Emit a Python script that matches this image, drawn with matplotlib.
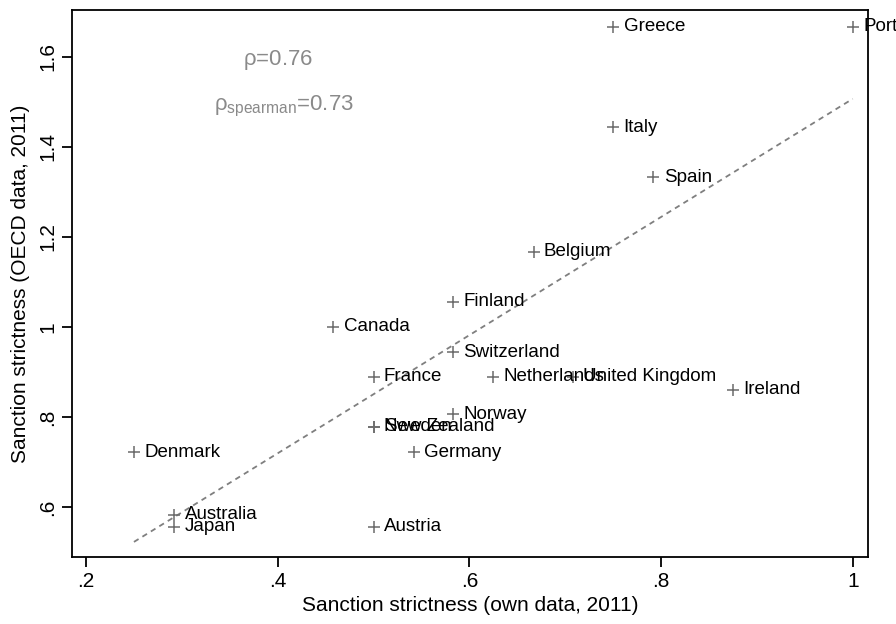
import matplotlib
matplotlib.use("Agg")
import matplotlib.pyplot as plt
import numpy as np

plt.rcParams['font.family'] = ['Liberation Sans', 'DejaVu Sans']
plt.rcParams['mathtext.fontset'] = 'custom'
plt.rcParams['mathtext.rm'] = 'Liberation Sans'
plt.rcParams['mathtext.it'] = 'Liberation Sans'

countries = ["Greece", "Portugal", "Italy", "Spain", "Belgium", "Finland",
             "Canada", "Switzerland", "France", "Netherlands", "United Kingdom",
             "Ireland", "Norway", "Sweden", "New Zealand", "Germany", "Denmark",
             "Australia", "Japan", "Austria"]
own = [0.75, 1.0, 0.75, 0.792, 0.667, 0.583,
       0.458, 0.583, 0.5, 0.625, 0.708,
       0.875, 0.583, 0.5, 0.5, 0.542, 0.25,
       0.292, 0.292, 0.5]
oecd = [1.667, 1.667, 1.444, 1.333, 1.167, 1.056,
        1.0, 0.944, 0.889, 0.889, 0.889,
        0.861, 0.806, 0.778, 0.778, 0.722, 0.722,
        0.583, 0.556, 0.556]

xticks = [0.2, 0.4, 0.6, 0.8, 1.0]
xticklabels = [".2", ".4", ".6", ".8", "1"]
yticks = [0.6, 0.8, 1.0, 1.2, 1.4, 1.6]
yticklabels = [".6", ".8", "1", "1.2", "1.4", "1.6"]

x = np.array(own)
y = np.array(oecd)

fig = plt.figure(figsize=(8.96, 6.24), dpi=100)
ax = fig.add_axes([0.0804, 0.1074, 0.8884, 0.8766])

# fitted line
slope, icpt = np.polyfit(x, y, 1)
xs = np.array([x.min(), x.max()])
ax.plot(xs, icpt + slope * xs, color='#7f7f7f', linestyle=(0, (3, 2.5)), linewidth=1.3)

ax.scatter(x, y, marker='+', s=70, color='#6b6b6b', linewidths=1.1, zorder=3)
for name, xi, yi in zip(countries, x, y):
    ax.annotate(name, (xi, yi), xytext=(7.5, 0), textcoords='offset points',
                va='center', ha='left', fontsize=13.5, color='black',
                annotation_clip=False)

ax.text(0.364, 1.594, r'$\rho$=0.76', color='#8a8a8a', fontsize=16, ha='left', va='center')
ax.text(0.334, 1.49, r'$\rho_{\mathrm{spearman}}$=0.73', color='#8a8a8a', fontsize=16,
        ha='left', va='center')

ax.set_xlim(0.1854, 1.016)
ax.set_ylim(0.489, 1.704)
ax.set_xticks(xticks)
ax.set_xticklabels(xticklabels)
ax.set_yticks(yticks)
ax.set_yticklabels(yticklabels, rotation=90, va='center')
ax.tick_params(direction='out', length=7, width=1.3, labelsize=15)
for sp in ax.spines.values():
    sp.set_linewidth(1.3)

ax.set_xlabel("Sanction strictness (own data, 2011)", fontsize=15, labelpad=4)
ax.set_ylabel("Sanction strictness (OECD data, 2011)", fontsize=15, labelpad=6)

fig.savefig("out.png", dpi=100)
